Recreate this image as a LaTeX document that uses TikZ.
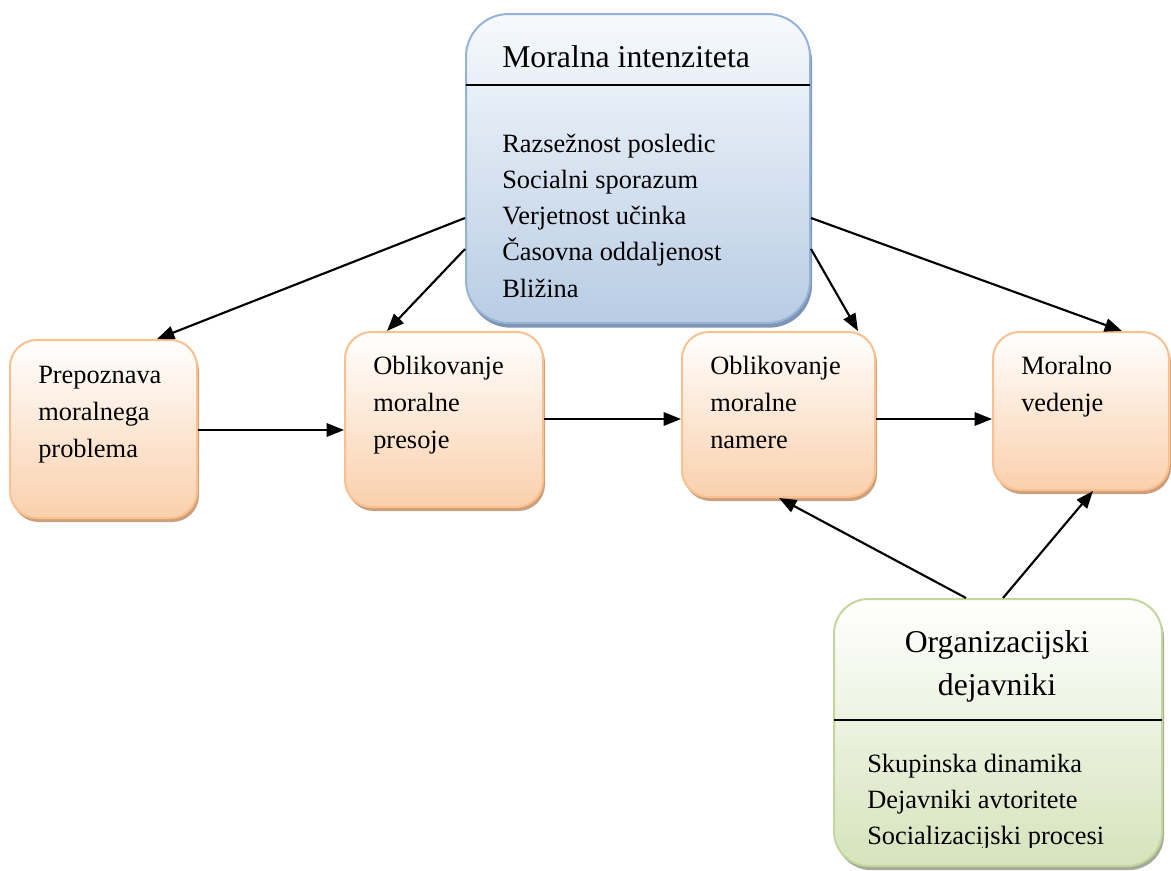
\documentclass[tikz,border=0pt]{standalone}
\usepackage{fontspec}
\setmainfont{Liberation Serif}
\usetikzlibrary{arrows.meta,calc,shadows}
\definecolor{bluetop}{RGB}{247,250,253}
\definecolor{bluebot}{RGB}{184,204,228}
\definecolor{blueline}{RGB}{149,179,215}
\definecolor{blueshadow}{RGB}{125,148,180}
\definecolor{ortop}{RGB}{255,255,255}
\definecolor{orbot}{RGB}{250,208,172}
\definecolor{orline}{RGB}{250,192,144}
\definecolor{orshadow}{RGB}{205,160,125}
\definecolor{grtop}{RGB}{255,255,255}
\definecolor{grbot}{RGB}{214,227,188}
\definecolor{grline}{RGB}{195,214,155}
\definecolor{grshadow}{RGB}{165,170,155}
\begin{document}
\begin{tikzpicture}[x=0.75pt,y=-0.75pt,
  basebox/.style={rectangle, line width=1.5pt, inner sep=0pt},
  bluebox/.style={basebox, draw=blueline, top color=bluetop, bottom color=bluebot, rounded corners=32pt,
     drop shadow={shadow xshift=1.5pt, shadow yshift=-3.5pt, fill=blueshadow, opacity=1}},
  orbox/.style={basebox, draw=orline, top color=ortop, bottom color=orbot, rounded corners=20pt,
     drop shadow={shadow xshift=1.5pt, shadow yshift=-3pt, fill=orshadow, opacity=1}},
  grbox/.style={basebox, draw=grline, top color=grtop, bottom color=grbot, rounded corners=26pt,
     drop shadow={shadow xshift=1.5pt, shadow yshift=-3pt, fill=grshadow, opacity=1}},
  txt/.style={font=\fontsize{19.8}{24}\selectfont, inner sep=0pt, anchor=base west},
  ttl/.style={font=\fontsize{23.8}{28}\selectfont, inner sep=0pt},
  conn/.style={-{Triangle[length=13pt,width=10pt]}, line width=1.6pt},
  divider/.style={line width=1.1pt}]
\useasboundingbox (0,0) rectangle (1171,871);

% boxes
\node[bluebox, minimum width={344*0.75pt}, minimum height={309*0.75pt}] (mi) at (638,168.5) {};
\node[orbox, minimum width={187*0.75pt}, minimum height={178*0.75pt}] (b1) at (103.5,429) {};
\node[orbox, minimum width={198*0.75pt}, minimum height={175*0.75pt}] (b2) at (444,419.5) {};
\node[orbox, minimum width={193*0.75pt}, minimum height={165*0.75pt}] (b3) at (778.5,414.5) {};
\node[orbox, minimum width={176*0.75pt}, minimum height={158*0.75pt}] (b4) at (1081,411) {};
\node[grbox, minimum width={328*0.75pt}, minimum height={267*0.75pt}] (od) at (998,732.5) {};

% dividers
\draw[divider] ($(mi.north west)+(1,72)$) -- ($(mi.north east)+(-1,72)$);
\draw[divider] ($(od.north west)+(1,122)$) -- ($(od.north east)+(-1,122)$);

% top box text
\node[ttl, anchor=base west] (mititle) at (502,67) {Moralna intenziteta};
\foreach \t [count=\i] in {Razsežnost posledic, Socialni sporazum, Verjetnost učinka, Časovna oddaljenost, Bližina}
  \node[txt] (mi\i) at (502,{115.7+36.3*\i}) {\t};

% process boxes text
\foreach \t [count=\i] in {Prepoznava, moralnega, problema}
  \node[txt] (b1t\i) at (38,{346+37*\i}) {\t};
\foreach \t [count=\i] in {Oblikovanje, moralne, presoje}
  \node[txt] (b2t\i) at (373,{337+37*\i}) {\t};
\foreach \t [count=\i] in {Oblikovanje, moralne, namere}
  \node[txt] (b3t\i) at (710,{337+37*\i}) {\t};
\foreach \t [count=\i] in {Moralno, vedenje}
  \node[txt] (b4t\i) at (1021,{337+37*\i}) {\t};

% green box text
\node[ttl, anchor=base] (odt1) at (997,652) {Organizacijski};
\node[ttl, anchor=base] (odt2) at (997,695) {dejavniki};
\node[txt] (od1) at (867,772) {Skupinska dinamika};
\node[txt] (od2) at (867,808) {Dejavniki avtoritete};
\begin{scope}
  \clip (840,820) rectangle (1160,847);
  \node[txt] (od3) at (867,844) {Socializacijski procesi};
\end{scope}

% connectors
\draw[conn] (b1.east |- 0,430) -- (b2.west |- 0,430);
\draw[conn] (b2.east |- 0,419) -- (b3.west |- 0,419);
\draw[conn] (b3.east |- 0,419) -- (b4.west |- 0,419);
\draw[conn] ($(mi.north west)+(0,205)$) -- ($(b1.north west)+(148,0)$);
\draw[conn] ($(mi.north west)+(0,236)$) -- ($(b2.north west)+(43,0)$);
\draw[conn] ($(mi.north east)+(0,205)$) -- ($(b4.north west)+(130,0)$);
\draw[conn] ($(mi.north east)+(0,236)$) -- ($(b3.north west)+(177,0)$);
\draw[conn] ($(od.north west)+(133,0)$) -- ($(b3.south west)+(98,0)$);
\draw[conn] ($(od.north west)+(170,0)$) -- ($(b4.south west)+(101,0)$);
\end{tikzpicture}
\end{document}
